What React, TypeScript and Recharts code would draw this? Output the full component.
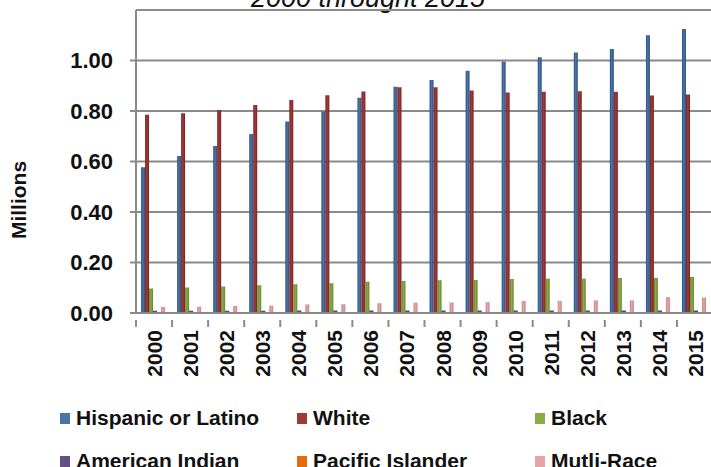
import { Bar, BarChart, CartesianGrid, XAxis, YAxis } from 'recharts'

const years = ['2000', '2001', '2002', '2003', '2004', '2005', '2006', '2007', '2008', '2009', '2010', '2011', '2012', '2013', '2014', '2015']
const hispanic = [0.577, 0.622, 0.661, 0.709, 0.758, 0.798, 0.852, 0.896, 0.923, 0.959, 0.996, 1.013, 1.032, 1.046, 1.1, 1.125]
const white = [0.785, 0.791, 0.804, 0.824, 0.844, 0.862, 0.877, 0.894, 0.894, 0.881, 0.873, 0.876, 0.878, 0.876, 0.861, 0.865]
const black = [0.097, 0.101, 0.105, 0.11, 0.114, 0.118, 0.124, 0.127, 0.13, 0.131, 0.135, 0.136, 0.136, 0.139, 0.139, 0.143]
const amIndian = [0.009, 0.009, 0.009, 0.009, 0.01, 0.01, 0.01, 0.01, 0.01, 0.01, 0.01, 0.01, 0.01, 0.01, 0.01, 0.01]
const pacific = [0.003, 0.003, 0.003, 0.003, 0.003, 0.003, 0.003, 0.003, 0.004, 0.004, 0.004, 0.004, 0.004, 0.004, 0.004, 0.004]
const multi = [0.024, 0.025, 0.028, 0.029, 0.034, 0.035, 0.039, 0.041, 0.042, 0.043, 0.048, 0.048, 0.05, 0.05, 0.063, 0.061]
const yTicks = [0, 0.2, 0.4, 0.6, 0.8, 1.0]

const series = [
  { key: 'hispanic', name: 'Hispanic or Latino', color: '#4a74a8', edge: '#2c5081' },
  { key: 'white', name: 'White', color: '#a03a38', edge: '#782321' },
  { key: 'black', name: 'Black', color: '#8aab48', edge: '#66862c' },
  { key: 'amIndian', name: 'American Indian', color: '#664f85', edge: '#46335f' },
  { key: 'pacific', name: 'Pacific Islander', color: '#e46c0a', edge: '#b85506' },
  { key: 'multi', name: 'Mutli-Race', color: '#e3a6a5', edge: '#c68684' },
]

const data = years.map((year, i) => ({
  year,
  hispanic: hispanic[i],
  white: white[i],
  black: black[i],
  amIndian: amIndian[i],
  pacific: pacific[i],
  multi: multi[i],
}))

const CHART_W = 713
const CHART_H = 400
const Y_AXIS_W = 136
const FONT = 'Arial, "Liberation Sans", sans-serif'
const GRID = '#8a8a8a'

const halfBand = (CHART_W - Y_AXIS_W) / years.length / 2

function YearTick({ x, y, payload }: any) {
  return (
    <g>
      <line x1={x - halfBand} y1={y - 1} x2={x - halfBand} y2={y + 6} stroke={GRID} strokeWidth={2} />
      <text
        x={x + 8}
        y={y + 9}
        transform={`rotate(-90, ${x + 8}, ${y + 9})`}
        textAnchor="end"
        fontSize={21}
        fontWeight="bold"
        fontFamily={FONT}
        fill="#111"
      >
        {payload.value}
      </text>
    </g>
  )
}

export default function App() {
  return (
    <div style={{ position: 'absolute', left: 0, top: 0, width: 711, height: 467, overflow: 'hidden', background: '#fff' }}>
      <div
        style={{
          position: 'absolute',
          left: 0,
          width: 736,
          top: -15,
          textAlign: 'center',
          fontFamily: FONT,
          fontStyle: 'italic',
          fontSize: 27,
          lineHeight: '27px',
          color: '#111',
        }}
      >
        2000 throught 2015
      </div>
      <div
        style={{
          position: 'absolute',
          left: 18,
          top: 200,
          transform: 'translate(-50%, -50%) rotate(-90deg)',
          fontFamily: FONT,
          fontWeight: 'bold',
          fontSize: 21,
          lineHeight: '21px',
          color: '#111',
          whiteSpace: 'nowrap',
        }}
      >
        Millions
      </div>
      <div style={{ position: 'absolute', left: 0, top: 0 }}>
        <BarChart
          width={CHART_W}
          height={CHART_H}
          data={data}
          margin={{ top: 10, right: 0, bottom: 0, left: 0 }}
          barCategoryGap="14%"
          barGap={0}
        >
          <defs>
            {series.map((s) => (
              <linearGradient key={s.key} id={`grad-${s.key}`} x1="0" y1="0" x2="1" y2="0">
                <stop offset="0%" stopColor={s.edge} />
                <stop offset="45%" stopColor={s.color} />
                <stop offset="100%" stopColor={s.edge} />
              </linearGradient>
            ))}
          </defs>
          <CartesianGrid vertical={false} stroke={GRID} strokeWidth={2} />
          <XAxis
            dataKey="year"
            height={87}
            tick={<YearTick />}
            tickLine={false}
            axisLine={{ stroke: GRID, strokeWidth: 2 }}
            interval={0}
          />
          <YAxis
            width={Y_AXIS_W}
            domain={[0, 1.2]}
            ticks={yTicks}
            tickFormatter={(v: number) => v.toFixed(2)}
            tick={{ fontSize: 22, fontWeight: 'bold', fontFamily: FONT, fill: '#111' }}
            tickSize={6}
            tickMargin={17}
            tickLine={{ stroke: GRID, strokeWidth: 2 }}
            axisLine={{ stroke: GRID, strokeWidth: 2 }}
          />
          {series.map((s) => (
            <Bar key={s.key} dataKey={s.key} name={s.name} fill={`url(#grad-${s.key})`} isAnimationActive={false} />
          ))}
        </BarChart>
      </div>
      {series.map((s, i) => {
        const col = i % 3
        const row = Math.floor(i / 3)
        const left = [60, 297, 535][col]
        const top = [406, 449][row]
        return (
          <div
            key={s.key}
            style={{
              position: 'absolute',
              left,
              top,
              display: 'flex',
              alignItems: 'center',
              fontFamily: FONT,
              fontWeight: 'bold',
              fontSize: 21,
              lineHeight: '24px',
              color: '#111',
              whiteSpace: 'nowrap',
            }}
          >
            <span style={{ display: 'inline-block', width: 10, height: 11, background: s.color, marginRight: 6 }} />
            {s.name}
          </div>
        )
      })}
    </div>
  )
}
